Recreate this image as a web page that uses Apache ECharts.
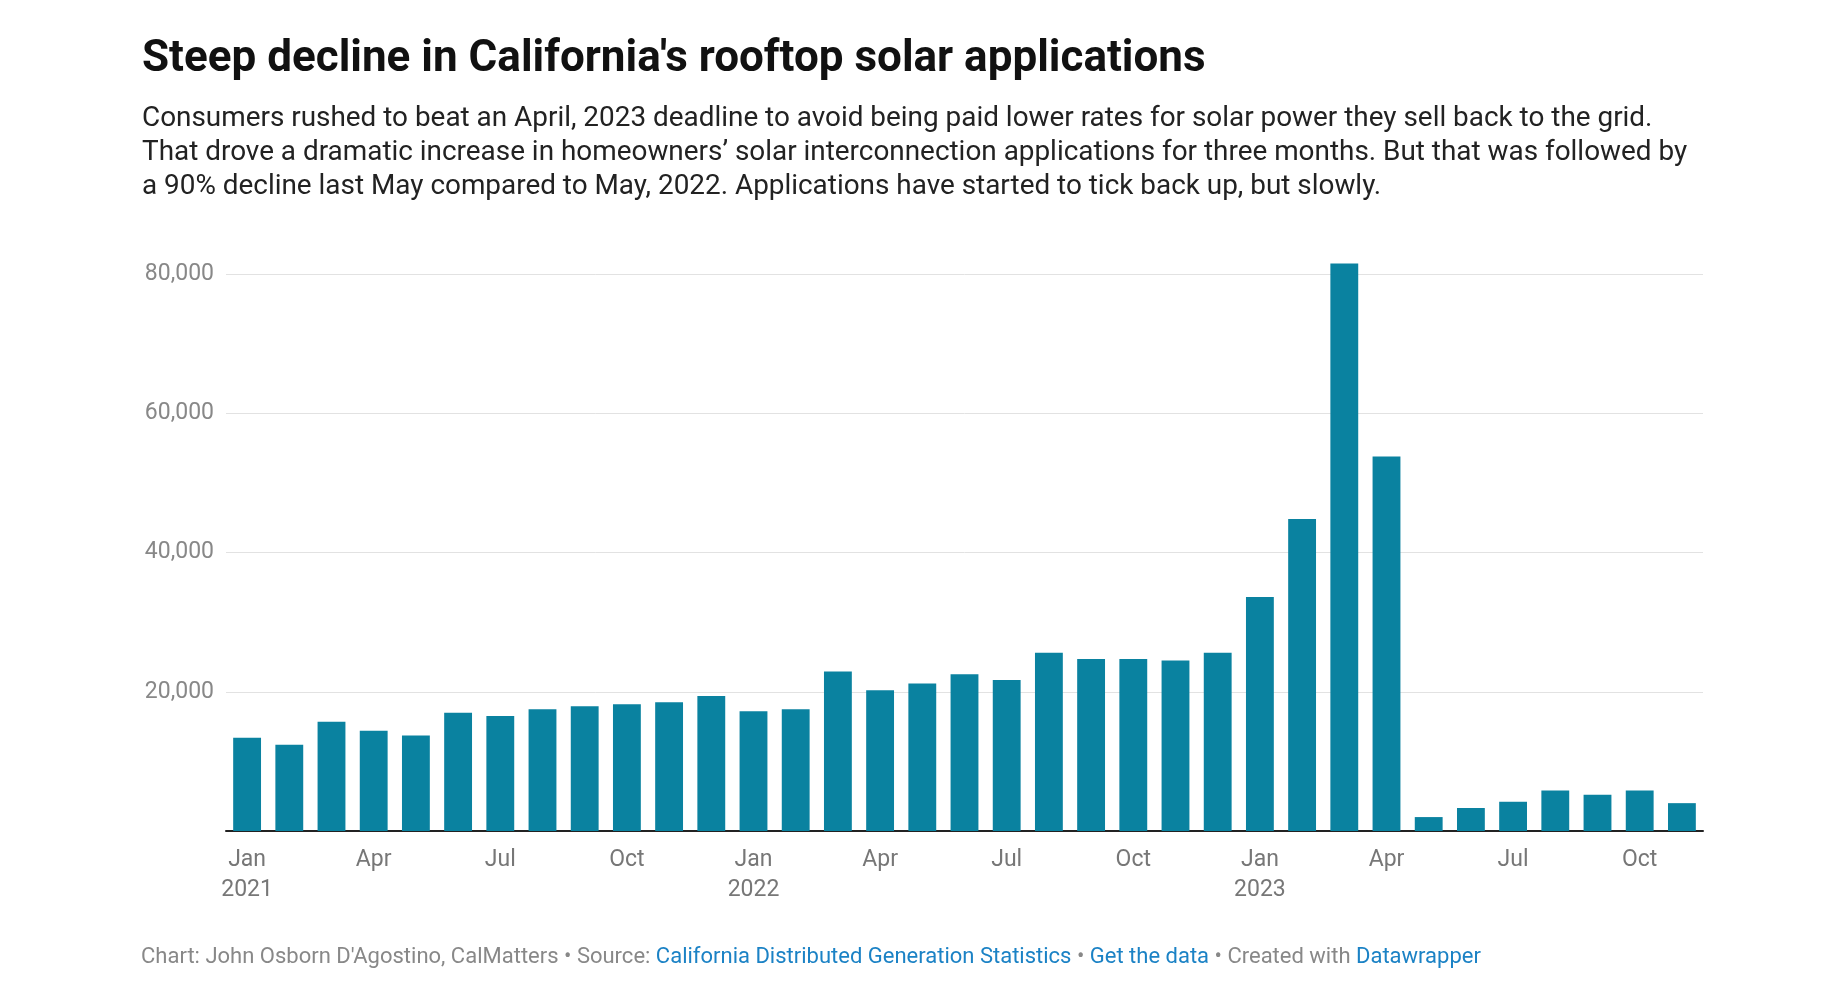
<!DOCTYPE html>
<html>
<head>
<meta charset="utf-8">
<script src="https://cdn.jsdelivr.net/npm/echarts@6/dist/echarts.min.js"></script>
<style>html,body{margin:0;padding:0;background:#fff}#main{width:1828px;height:996px}</style>
</head>
<body>
<div id="main"></div>
<script>
// months Jan 2021 - Nov 2023
var months = ['Jan','Feb','Mar','Apr','May','Jun','Jul','Aug','Sep','Oct','Nov','Dec'];
var years = ['2021','2022','2023'];
var applications = [
    13400,12400,15700,14400,13700,17000,16500,17500,17900,18200,18500,19400,
    17200,17500,22900,20200,21200,22500,21700,25600,24700,24700,24500,25600,
    33600,44800,81500,53800,2000,3300,4200,5800,5200,5800,4000
];
var yTicks = [0,20000,40000,60000,80000];

var categories = [];
for (var i = 0; i < applications.length; i++) {
    var m = months[i % 12];
    var y = years[Math.floor(i / 12)];
    categories.push(m + '|' + y);
}

var myChart = echarts.init(document.getElementById('main'));
var font = 'Roboto';
option = {
    backgroundColor:'#fff',
    animation:false,
    title:{
        text:"Steep decline in California's rooftop solar applications",
        left:137, top:33,
        textStyle:{fontFamily:font,fontSize:44,fontWeight:'bold',color:'#111'},
        subtext:'Consumers rushed to beat an April, 2023 deadline to avoid being paid lower rates for solar power they sell back to the grid.\nThat drove a dramatic increase in homeowners\u2019 solar interconnection applications for three months. But that was followed by\na 90% decline last May compared to May, 2022. Applications have started to tick back up, but slowly.',
        subtextStyle:{fontFamily:font,fontSize:27.9,color:'#222',lineHeight:34},
        itemGap:20
    },
    grid:{left:226,right:125,top:274,bottom:165,containLabel:false},
    xAxis:{
        type:'category',
        data:categories,
        axisLine:{lineStyle:{color:'#222',width:2}},
        axisTick:{show:false},
        axisLabel:{
            interval:0,
            margin:14,
            fontFamily:font,fontSize:23,color:'#777',lineHeight:30,
            formatter:function(v){
                var p = v.split('|');
                if (['Jan','Apr','Jul','Oct'].indexOf(p[0]) < 0) return '';
                return p[0] == 'Jan' ? p[0] + '\n' + p[1] : p[0];
            }
        }
    },
    yAxis:{
        type:'value',
        min:yTicks[0], max:yTicks[yTicks.length-1], interval:20000,
        axisLine:{show:false},
        axisTick:{show:false},
        splitLine:{lineStyle:{color:'#e2e2e2',width:1}},
        axisLabel:{
            margin:12,
            fontFamily:font,fontSize:23,color:'#888',
            formatter:function(v){ return v === 0 ? '' : v.toLocaleString('en-US'); }
        }
    },
    series:[{
        type:'bar',
        data:applications,
        clip:false,
        barCategoryGap:'34%',
        itemStyle:{color:'#0a82a0'}
    }],
    graphic:[{
        type:'text',
        left:141, top:946,
        style:{
            text:"{g|Chart: John Osborn D'Agostino, CalMatters \u2022 Source: }{b|California Distributed Generation Statistics}{g| \u2022 }{b|Get the data}{g| \u2022 Created with }{b|Datawrapper}",
            rich:{
                g:{fontFamily:font,fontSize:22,fill:'#888'},
                b:{fontFamily:font,fontSize:22,fill:'#1b82c5'}
            }
        }
    }]
};
myChart.setOption(option);
</script>
</body>
</html>
